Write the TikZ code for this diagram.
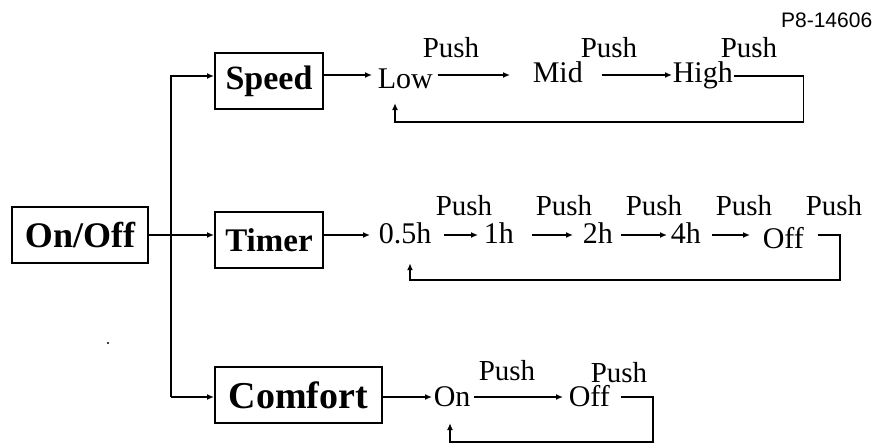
\documentclass[tikz,border=0pt]{standalone}
\usepackage{fontspec}
\setmainfont{Liberation Serif}
\newfontfamily\codefont{Liberation Sans}
\usetikzlibrary{positioning,arrows.meta}

\begin{document}
\begin{tikzpicture}[x=0.5pt,y=-0.5pt,line width=0.8pt,
          >={Latex[length=3.5pt,width=3pt]},
          box/.style={draw,line width=1pt,minimum height=28pt,inner sep=0pt},
          val/.style={inner sep=0pt,anchor=base west,font=\fontsize{15}{18}\selectfont},
          push/.style={inner sep=0pt,anchor=base west,font=\fontsize{14.5}{17}\selectfont}
        ]
        \useasboundingbox (0,0) rectangle (876,443);
        \node[anchor=base east,inner sep=0pt,font=\codefont\fontsize{10.5}{12}\selectfont] (code) at (873,28) {P8-14606};
        % mode boxes
        \node[box,minimum width=68pt,font=\fontsize{18}{20}\selectfont\bfseries] (onoff) at (80,235) {On/Off};
        \node[box,minimum width=54pt,font=\fontsize{17}{20}\selectfont\bfseries] (speed) at (269,81.5) {Speed};
        \node[box,minimum width=54pt,font=\fontsize{16.5}{20}\selectfont\bfseries] (timer) at (269,240) {Timer};
        \node[box,minimum width=83.5pt,font=\fontsize{19}{22}\selectfont\bfseries] (comfort) at (298.5,395) {Comfort};
        \coordinate (split) at (171,0);
        \coordinate (r1) at (0,75);
        \coordinate (r2) at (0,235);
        \coordinate (r3) at (0,397);
        % settings
        \node[val] (low) at (377,89) {Low};
        \node[val] (mid) at (532,83) {Mid};
        \node[val] (high) at (672,83) {High};
        \node[val] (half) at (378,243) {0.5h};
        \node[val] (one) at (483,243) {1h};
        \node[val] (two) at (582,243) {2h};
        \node[val] (four) at (670,243) {4h};
        \node[val] (toff) at (762,248) {Off};
        \node[val] (con) at (433,406) {On};
        \node[val] (coff) at (568,406) {Off};
        \foreach \x/\y [count=\i] in {422/58,580/58,720/58,435/215,535/215,625/215,715/215,805/215,478/380,590/382}
          \node[push] (push\i) at (\x,\y) {Push};
        % branches
        \draw (onoff.east |- r2) -- (split |- r2);
        \draw[->] (split |- r3) |- ([yshift=2.75pt]speed.west);
        \draw[->] (split |- r2) -- (timer.west |- r2);
        \draw[->] (split |- r3) -- (comfort.west |- r3);
        % speed
        \draw[->,shorten >=2.5pt] (speed.east |- r1) -- (low.west |- r1);
        \draw[->,shorten <=2pt,shorten >=11pt] (low.east |- r1) -- (mid.west |- r1);
        \draw[->,shorten <=9pt] (mid.east |- r1) -- (high.west |- r1);
        \draw[->,shorten >=6.5pt] ([yshift=-0.5pt]high.east |- r1) -- ++(70,0) -- ++(0,46) -| ([xshift=9pt]low.south west);
        % timer
        \draw[->,shorten >=4pt] (timer.east |- r2) -- (half.west |- r2);
        \draw[->,shorten <=6pt,shorten >=2.5pt] (half.east |- r2) -- (one.west |- r2);
        \draw[->,shorten <=8.5pt,shorten >=4.5pt] (one.east |- r2) -- (two.west |- r2);
        \draw[->,shorten <=3.5pt,shorten >=1.5pt] (two.east |- r2) -- (four.west |- r2);
        \draw[->,shorten <=5pt,shorten >=6pt] (four.east |- r2) -- (toff.west |- r2);
        \draw[->,shorten >=9.5pt] ([xshift=6.5pt]toff.east |- r2) -- ++(22,0) -- ++(0,45) -| ([xshift=16pt]half.south west);
        % comfort
        \draw[->,shorten >=0.5pt] (comfort.east |- r3) -- (con.west |- r3);
        \draw[->,shorten <=1.5pt,shorten >=2.5pt] (con.east |- r3) -- (coff.west |- r3);
        \draw[->,shorten >=8pt] ([xshift=5pt]coff.east |- r3) -- ++(32,0) -- ++(0,45) -| ([xshift=8.5pt]con.south west);
        \fill (108,343) circle (0.6pt);
      \end{tikzpicture}
\end{document}
